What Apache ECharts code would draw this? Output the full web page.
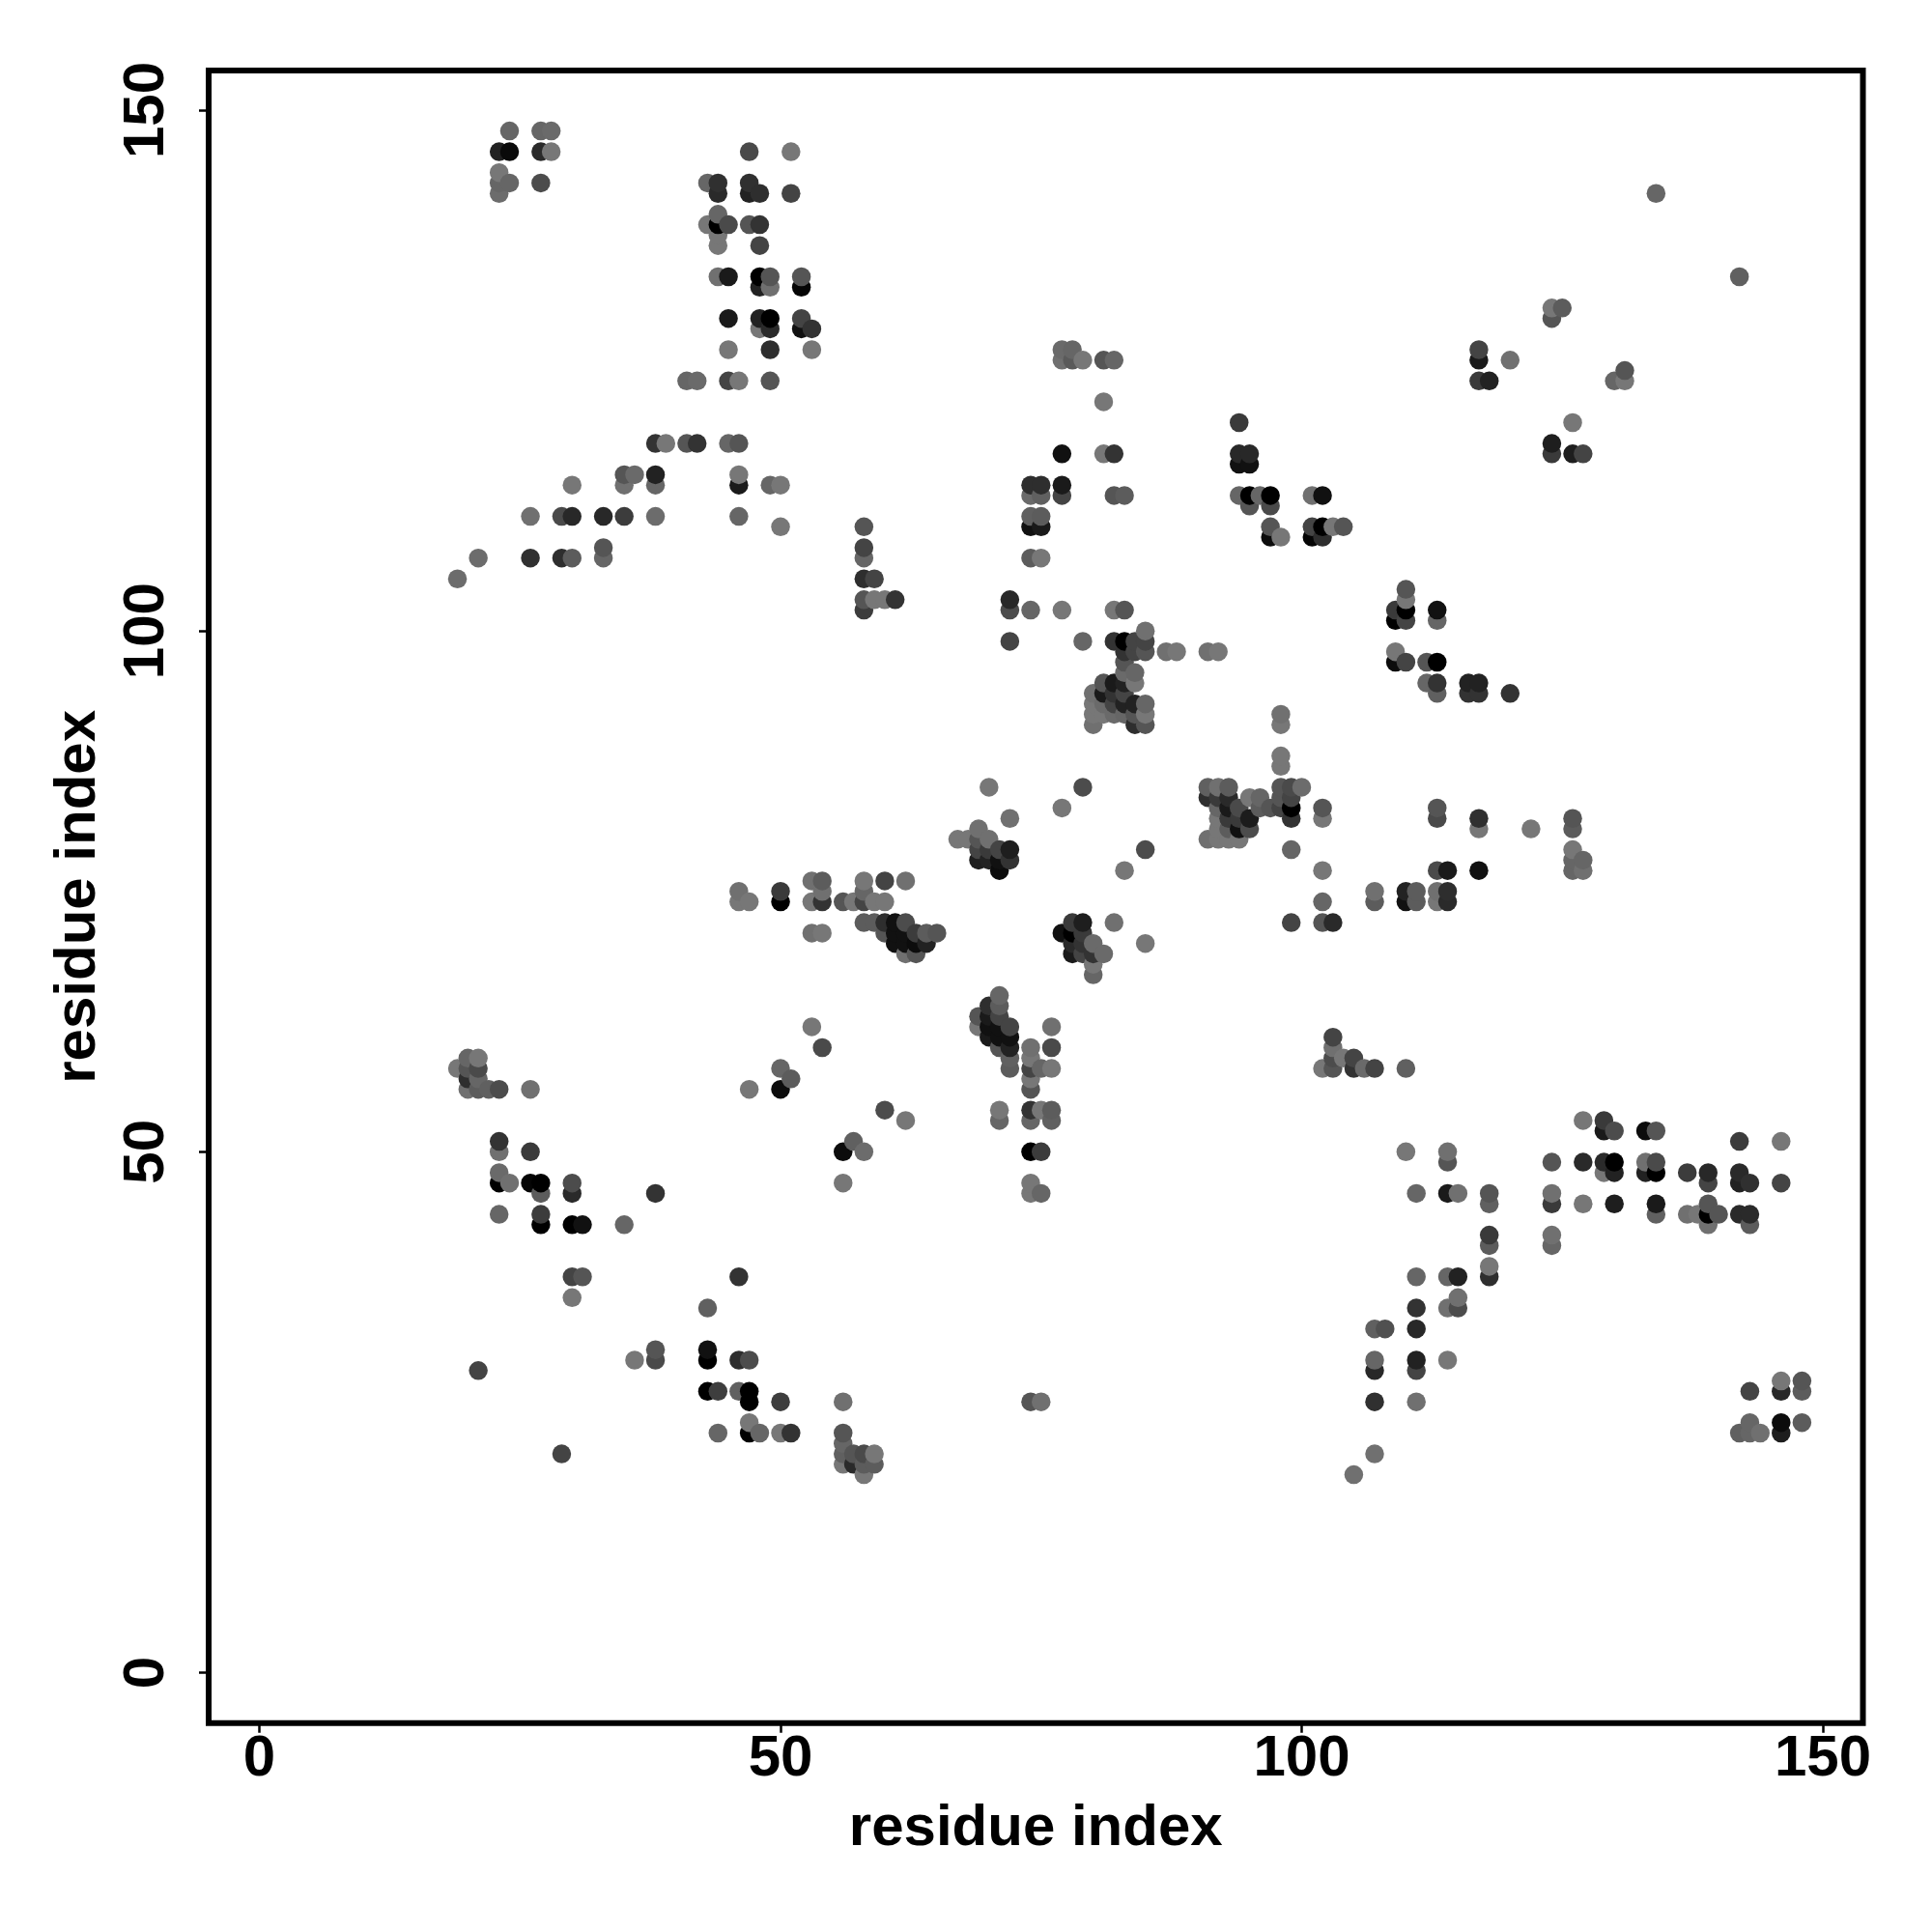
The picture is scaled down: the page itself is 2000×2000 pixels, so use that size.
<!DOCTYPE html>
<html>
<head>
<meta charset="utf-8">
<style>html,body{margin:0;padding:0;background:#fff}#c{width:2000px;height:2000px}</style>
<script src="https://cdn.jsdelivr.net/npm/echarts@6/dist/echarts.min.js"></script>
</head>
<body>
<div id="c"></div>
<script>
// Each contact is [residue i, residue j, grey level]
const contactsTop = [
[24,148,102],[27,148,102],[28,148,106],
[23,146,34],[24,146,10],[27,146,42],[28,146,119],[47,146,74],[51,146,119],
[23,144,119],
[23,143,102],[24,143,102],[27,143,76],[43,143,102],[44,143,48],[47,143,48],
[23,142,108],[44,142,42],[47,142,34],[48,142,46],[51,142,68],[134,142,102],
[44,140,102],
[43,139,119],[44,139,0],[45,139,74],[47,139,85],[48,139,51],
[44,138,119],
[44,137,119],[48,137,68],
[44,134,112],[45,134,26],[48,134,0],[49,134,85],[52,134,85],[142,134,96],
[48,133,34],[49,133,112],[52,133,5],
[124,131,119],[125,131,92],
[45,130,26],[48,130,34],[49,130,0],[52,130,68],[124,130,85],
[48,129,119],[49,129,42],[52,129,17],[53,129,51],
[45,127,119],[49,127,46],[53,127,119],[77,127,106],[78,127,102],[117,127,68],
[77,126,112],[78,126,90],[79,126,119],[81,126,85],[82,126,102],[117,126,26],[120,126,112],
[131,125,85],
[41,124,102],[42,124,106],[45,124,68],[46,124,119],[49,124,85],[117,124,58],[118,124,34],[130,124,102],[131,124,119],
[81,122,119]
];
const contactsUpper = [
[94,120,58],[126,120,119],
[38,118,51],[39,118,119],[41,118,85],[42,118,51],[45,118,102],[46,118,85],[124,118,30],
[77,117,17],[81,117,119],[82,117,51],[94,117,40],[95,117,40],[124,117,58],[126,117,30],[127,117,68],
[94,116,17],[95,116,17],
[35,115,85],[36,115,106],[38,115,34],[46,115,119],
[30,114,119],[35,114,112],[38,114,102],[46,114,26],[49,114,102],[50,114,119],[74,114,46],[75,114,46],[77,114,26],
[74,113,106],[75,113,96],[77,113,68],[82,113,85],[83,113,92],[94,113,102],[95,113,0],[96,113,102],[97,113,0],[101,113,112],[102,113,17],
[95,112,85],[97,112,74],
[26,111,112],[29,111,74],[30,111,40],[33,111,40],[35,111,60],[38,111,108],[46,111,102],[74,111,96],[75,111,92],
[50,110,119],[58,110,85],[74,110,17],[75,110,26],[97,110,85],[101,110,68],[102,110,0],[103,110,119],[104,110,85],
[97,109,12],[98,109,119],[101,109,5],[102,109,46],
[33,108,85],[58,108,68],
[21,107,108],[26,107,48],[29,107,46],[30,107,92],[33,107,102],[58,107,102],[74,107,92],[75,107,119],
[19,105,108],[58,105,46],[59,105,68],
[110,104,85],
[58,103,85],[59,103,119],[60,103,119],[61,103,51],[72,103,40],[110,103,119],
[58,102,60],[72,102,76],[74,102,102],[77,102,119],[82,102,119],[83,102,85],[109,102,58],[110,102,0],[113,102,17],
[109,101,0],[110,101,68],[113,101,102]
];
const contactsMiddle = [
[85,100,112],
[72,99,68],[79,99,102],[82,99,51],[83,99,0],[84,99,68],[85,99,68],
[83,98,51],[84,98,68],[85,98,85],[87,98,112],[88,98,119],[91,98,112],[92,98,119],[109,98,119],
[83,97,85],[109,97,12],[110,97,68],[112,97,85],[113,97,0],
[83,96,106],[84,96,102],
[81,95,85],[82,95,26],[83,95,34],[84,95,119],[112,95,102],[113,95,51],[116,95,34],[117,95,34],
[80,94,112],[81,94,26],[82,94,51],[83,94,68],[113,94,96],[116,94,51],[117,94,51],[120,94,51],
[80,93,119],[81,93,106],[82,93,68],[83,93,34],[84,93,34],[85,93,102],
[80,92,119],[81,92,119],[82,92,106],[83,92,102],[84,92,85],[85,92,119],[98,92,112],
[80,91,112],[84,91,46],[85,91,85],[98,91,119],
[98,88,119],[98,87,119],
[70,85,119],[79,85,76],[91,85,96],[92,85,112],[93,85,92],[98,85,85],[99,85,74],[100,85,108],
[91,84,46],[92,84,58],[93,84,42],[95,84,119],[96,84,102],[98,84,85],[99,84,68],
[77,83,119],[92,83,102],[93,83,26],[94,83,74],[96,83,92],[97,83,85],[98,83,68],[99,83,0],[102,83,85],[113,83,85],
[72,82,112],[92,82,119],[93,82,58],[94,82,58],[95,82,28],[99,82,51],[102,82,119],[113,82,74],[117,82,48],[126,82,85],
[69,81,112],[92,81,119],[93,81,92],[94,81,17],[95,81,76],[117,81,119],[122,81,119],[126,81,92],
[67,80,119],[68,80,119],[69,80,85],[70,80,112],[91,80,112],[92,80,119],[93,80,119],[94,80,119],
[69,79,68],[70,79,58],[71,79,68],[72,79,30],[85,79,76],[99,79,102],[126,79,119],
[69,78,30],[70,78,34],[71,78,17],[72,78,51],[126,78,102],[127,78,102],
[71,77,12],[83,77,119],[102,77,119],[113,77,74],[114,77,26],[117,77,17],[126,77,102],[127,77,112]
];
const contactsCentre = [
[53,76,112],[54,76,92],[58,76,119],[60,76,68],[62,76,112],
[46,75,112],[50,75,58],[54,75,112],[58,75,102],[107,75,112],[110,75,34],[111,75,92],[113,75,112],[114,75,46],
[46,74,119],[47,74,119],[50,74,0],[53,74,119],[54,74,51],[56,74,85],[57,74,119],[58,74,68],[59,74,119],[60,74,119],[102,74,102],[107,74,92],[110,74,17],[111,74,92],[113,74,119],[114,74,42],
[58,72,92],[59,72,92],[60,72,46],[61,72,17],[62,72,76],[78,72,58],[79,72,30],[82,72,112],[99,72,68],[102,72,85],[103,72,42],
[53,71,112],[54,71,119],[60,71,85],[61,71,17],[62,71,17],[63,71,60],[64,71,92],[65,71,85],[77,71,17],[78,71,0],[79,71,58],
[61,70,17],[62,70,17],[63,70,12],[64,70,34],[78,70,42],[79,70,51],[80,70,106],[85,70,119],
[62,69,112],[63,69,85],[78,69,26],[79,69,68],[80,69,51],[81,69,106],
[80,68,119],[80,67,102],
[71,65,102],
[70,64,46],[71,64,92],
[69,63,85],[70,63,26],[71,63,68],
[53,62,119],[69,62,119],[70,62,17],[71,62,17],[72,62,68],[76,62,112],
[70,61,26],[71,61,17],[72,61,17],[103,61,68],
[54,60,74],[71,60,85],[72,60,34],[74,60,112],[76,60,74],[103,60,112],
[20,59,102],[21,59,119],[72,59,96],[74,59,119],[103,59,76],[104,59,119],[105,59,68],
[19,58,119],[20,58,85],[21,58,74],[50,58,102],[72,58,92],[74,58,68],[75,58,102],[76,58,119],[102,58,119],[103,58,85],[105,58,51],[106,58,106],[107,58,68],[110,58,96],
[20,57,46],[21,57,102],[51,57,92],[74,57,119],
[20,56,112],[21,56,92],[22,56,96],[23,56,76],[26,56,112],[47,56,119],[50,56,12],[74,56,85]
];
const contactsLower = [
[60,54,76],[71,54,119],[74,54,51],[75,54,119],[76,54,92],
[62,53,119],[71,53,102],[74,53,102],[76,53,96],[127,53,119],[129,53,58],
[129,52,26],[130,52,76],[133,52,12],[134,52,85],
[23,51,51],[57,51,96],[142,51,60],[146,51,119],
[23,50,112],[26,50,58],[56,50,12],[58,50,108],[74,50,0],[75,50,60],[110,50,119],[114,50,112],
[114,49,85],[124,49,85],[127,49,42],[129,49,42],[130,49,0],[133,49,112],[134,49,74],
[23,48,106],[129,48,119],[130,48,34],[133,48,34],[134,48,0],[137,48,60],[139,48,40],[142,48,42],
[23,47,0],[24,47,112],[26,47,5],[27,47,0],[30,47,76],[56,47,119],[74,47,119],[139,47,68],[142,47,34],[143,47,48],[146,47,68],
[27,46,92],[30,46,42],[38,46,51],[74,46,119],[75,46,102],[111,46,102],[114,46,26],[115,46,112],[118,46,85],[124,46,112],
[118,45,96],[124,45,58],[127,45,119],[130,45,30],[134,45,26],[139,45,85],
[23,44,102],[27,44,60],[134,44,96],[137,44,112],[138,44,119],[139,44,0],[140,44,85],[142,44,42],[143,44,42],
[27,43,0],[30,43,0],[31,43,17],[35,43,102],[139,43,112],[143,43,92],
[118,42,58],[124,42,112],
[118,41,92],[124,41,102],
[118,39,119],
[30,38,68],[31,38,85],[46,38,51],[111,38,102],[114,38,102],[115,38,34],[118,38,46],
[30,36,119],[115,36,112],
[43,35,96],[111,35,51],[114,35,112],[115,35,76]
];
const contactsBottom = [
[107,33,96],[108,33,80],[111,33,40],
[38,31,85],[43,31,17],
[36,30,119],[38,30,74],[43,30,0],[46,30,46],[47,30,76],[107,30,102],[111,30,34],[114,30,119],
[21,29,68],[107,29,40],[111,29,68],
[146,28,119],[148,28,85],
[43,27,0],[44,27,62],[46,27,96],[47,27,0],[143,27,68],[146,27,40],[148,27,92],
[47,26,0],[50,26,62],[56,26,112],[74,26,85],[75,26,112],[107,26,48],[111,26,112],
[47,24,119],[143,24,102],[146,24,12],[148,24,92],
[44,23,102],[47,23,0],[48,23,102],[50,23,119],[51,23,51],[56,23,85],[142,23,96],[143,23,102],[144,23,112],[146,23,30],
[56,22,102],
[29,21,68],[56,21,96],[57,21,85],[58,21,74],[59,21,119],[107,21,112],
[56,20,119],[57,20,42],[58,20,92],[59,20,92],
[58,19,119],[105,19,112]
];
const tickValues = [0, 50, 100, 150];
const xAxisTitle = 'residue index';
const yAxisTitle = 'residue index';

// The reference paints left to right, bottom to top within a column
const contacts = [].concat(contactsTop, contactsUpper, contactsMiddle, contactsCentre, contactsLower, contactsBottom)
  .sort((a, b) => a[0] - b[0] || a[1] - b[1]);

const font = '"Liberation Sans", Arial, sans-serif';
function axis(name, min, max, rot, gap, margin) {
  return {
    type: 'value', min: min, max: max,
    name: name, nameLocation: 'middle', nameGap: gap,
    nameRotate: rot ? 90 : 0,
    nameTextStyle: { fontFamily: font, fontWeight: 'bold', fontSize: 60, color: '#000' },
    axisLine: { show: false, onZero: false },
    splitLine: { show: false },
    axisTick: { show: true, customValues: tickValues, length: 10, lineStyle: { color: '#000', width: 2.5 } },
    axisLabel: { show: true, customValues: tickValues, rotate: rot ? 90 : 0, margin: margin, hideOverlap: false,
      showMinLabel: true, showMaxLabel: true,
      fontFamily: font, fontWeight: 'bold', fontSize: 60, color: '#000' }
  };
}
const chart = echarts.init(document.getElementById('c'), null, { renderer: 'canvas', width: 2000, height: 2000 });
chart.setOption({
  animation: false,
  backgroundColor: '#fff',
  grid: { show: true, left: 216, top: 73, width: 1712.5, height: 1710.7, borderColor: '#000', borderWidth: 6, backgroundColor: 'transparent', containLabel: false },
  xAxis: axis(xAxisTitle, -4.87, 153.85, false, 80, 8),
  yAxis: axis(yAxisTitle, -4.84, 153.8, true, 105, 34),
  series: [{
    type: 'scatter',
    symbol: 'circle',
    symbolSize: 19.5,
    large: false,
    data: contacts,
    encode: { x: 0, y: 1 },
    itemStyle: { opacity: 1, color: p => { const s = p.value[2]; return 'rgb(' + s + ',' + s + ',' + s + ')'; } }
  }]
});
</script>
</body>
</html>
